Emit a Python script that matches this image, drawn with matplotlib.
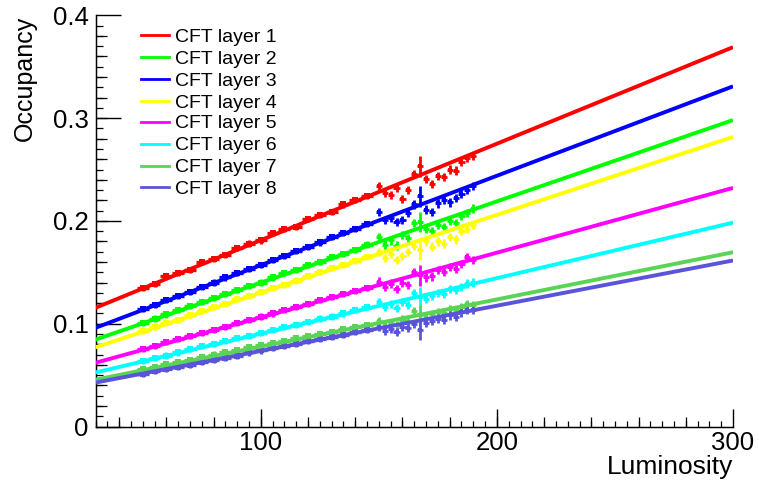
import numpy as np
import matplotlib
matplotlib.use("Agg")
import matplotlib.pyplot as plt
from matplotlib.lines import Line2D
from matplotlib.ticker import MultipleLocator

plt.rcParams['font.family'] = ['Liberation Sans', 'DejaVu Sans']

# ---- data -----------------------------------------------------------------
layers = ["CFT layer 1", "CFT layer 2", "CFT layer 3", "CFT layer 4",
          "CFT layer 5", "CFT layer 6", "CFT layer 7", "CFT layer 8"]
colors = ["#ff0000", "#00ff00", "#0000ff", "#ffff00",
          "#ff00ff", "#00ffff", "#59d454", "#5954d9"]

# linear fit parameters: occupancy = p0 + p1 * luminosity
fit_p0 = [0.0873, 0.0608, 0.0699, 0.0543, 0.0431, 0.0363, 0.0318, 0.0295]
fit_p1 = [0.000939, 0.000791, 0.000870, 0.000758, 0.000630, 0.000540, 0.000459, 0.000440]

# measured occupancy, low-luminosity runs
lumi_a = [50, 55, 60, 65, 70, 75, 80, 85, 90, 95,
          100, 105, 110, 115, 120, 125, 130, 135, 140, 145]
occ_a = {
    "CFT layer 1": [0.135, 0.139, 0.146, 0.149, 0.152, 0.160, 0.163, 0.167, 0.174, 0.178,
                    0.181, 0.188, 0.192, 0.194, 0.202, 0.206, 0.209, 0.216, 0.220, 0.224],
    "CFT layer 2": [0.101, 0.105, 0.109, 0.113, 0.117, 0.121, 0.125, 0.129, 0.133, 0.137,
                    0.140, 0.145, 0.149, 0.152, 0.157, 0.160, 0.165, 0.168, 0.172, 0.177],
    "CFT layer 3": [0.114, 0.118, 0.123, 0.127, 0.131, 0.136, 0.140, 0.145, 0.149, 0.153,
                    0.157, 0.162, 0.166, 0.171, 0.175, 0.179, 0.184, 0.188, 0.192, 0.197],
    "CFT layer 4": [0.093, 0.097, 0.101, 0.104, 0.108, 0.112, 0.116, 0.119, 0.124, 0.127,
                    0.131, 0.135, 0.138, 0.142, 0.146, 0.150, 0.154, 0.157, 0.161, 0.165],
    "CFT layer 5": [0.075, 0.078, 0.082, 0.085, 0.088, 0.091, 0.094, 0.097, 0.101, 0.104,
                    0.107, 0.110, 0.113, 0.116, 0.119, 0.123, 0.126, 0.129, 0.132, 0.135],
    "CFT layer 6": [0.064, 0.067, 0.069, 0.072, 0.075, 0.078, 0.080, 0.083, 0.086, 0.088,
                    0.091, 0.094, 0.097, 0.099, 0.102, 0.105, 0.107, 0.110, 0.113, 0.116],
    "CFT layer 7": [0.056, 0.058, 0.061, 0.063, 0.065, 0.068, 0.070, 0.072, 0.074, 0.077,
                    0.079, 0.081, 0.083, 0.086, 0.088, 0.090, 0.092, 0.095, 0.097, 0.099],
    "CFT layer 8": [0.051, 0.054, 0.056, 0.058, 0.060, 0.063, 0.065, 0.067, 0.069, 0.072,
                    0.074, 0.076, 0.078, 0.080, 0.083, 0.085, 0.087, 0.089, 0.092, 0.094],
}
err_a = 0.003

# measured occupancy, high-luminosity runs
lumi_b = [150, 152.5, 155, 157.5, 160, 162.5, 165, 167.5, 170,
          172.5, 175, 177.5, 180, 182.5, 185, 187.5, 190]
occ_b = {
    "CFT layer 1": [0.234, 0.227, 0.225, 0.232, 0.221, 0.230, 0.246, 0.253, 0.241,
                    0.236, 0.244, 0.243, 0.250, 0.249, 0.257, 0.261, 0.263],
    "CFT layer 2": [0.184, 0.177, 0.181, 0.176, 0.186, 0.183, 0.198, 0.199, 0.192,
                    0.190, 0.196, 0.194, 0.200, 0.198, 0.205, 0.208, 0.212],
    "CFT layer 3": [0.209, 0.201, 0.203, 0.199, 0.201, 0.208, 0.216, 0.224, 0.211,
                    0.209, 0.217, 0.220, 0.218, 0.222, 0.226, 0.230, 0.234],
    "CFT layer 4": [0.170, 0.164, 0.168, 0.162, 0.166, 0.170, 0.176, 0.172, 0.180,
                    0.175, 0.180, 0.178, 0.184, 0.182, 0.190, 0.192, 0.196],
    "CFT layer 5": [0.141, 0.136, 0.139, 0.134, 0.140, 0.138, 0.150, 0.147, 0.145,
                    0.146, 0.152, 0.150, 0.155, 0.153, 0.158, 0.165, 0.162],
    "CFT layer 6": [0.121, 0.116, 0.119, 0.115, 0.121, 0.118, 0.130, 0.126, 0.124,
                    0.127, 0.130, 0.129, 0.134, 0.133, 0.136, 0.139, 0.140],
    "CFT layer 7": [0.103, 0.098, 0.101, 0.099, 0.104, 0.102, 0.112, 0.108, 0.106,
                    0.109, 0.111, 0.110, 0.114, 0.113, 0.116, 0.119, 0.118],
    "CFT layer 8": [0.097, 0.093, 0.095, 0.092, 0.097, 0.096, 0.100, 0.094, 0.101,
                    0.103, 0.105, 0.104, 0.108, 0.107, 0.111, 0.113, 0.113],
}
err_b = [0.004, 0.004, 0.004, 0.004, 0.004, 0.004, 0.004, 0.010, 0.004,
         0.004, 0.004, 0.004, 0.004, 0.004, 0.004, 0.004, 0.004]

x_range = (30, 300)
y_range = (0, 0.4)

# ---- figure -----------------------------------------------------------------
W, H = 759, 483
fig = plt.figure(figsize=(W / 100, H / 100), dpi=100)
ax = fig.add_axes([95.5 / W, 1 - 426.5 / H, (733 - 95.5) / W, (426.5 - 15.3) / H])

xs = np.array(x_range, dtype=float)
for name, col, p0, p1 in zip(layers, colors, fit_p0, fit_p1):
    ax.errorbar(lumi_a, occ_a[name], xerr=2.5, yerr=err_a, fmt='s', ms=4, mew=0,
                color=col, ecolor=col, elinewidth=2.4, capsize=0, zorder=2)
    ax.errorbar(lumi_b, occ_b[name], xerr=1.3, yerr=err_b, fmt='s', ms=3.5, mew=0,
                color=col, ecolor=col, elinewidth=2.0, capsize=0, zorder=2)
    ax.plot(xs, p0 + p1 * xs, color=col, lw=2.8, solid_capstyle='butt', zorder=3)

ax.set_xlim(*x_range)
ax.set_ylim(*y_range)

for s in ("top", "right"):
    ax.spines[s].set_visible(False)
for s in ("left", "bottom"):
    ax.spines[s].set_linewidth(1.0)

ax.xaxis.set_major_locator(MultipleLocator(100))
ax.xaxis.set_minor_locator(MultipleLocator(5))
ax.yaxis.set_major_locator(MultipleLocator(0.1))
ax.yaxis.set_minor_locator(MultipleLocator(0.01))
ax.yaxis.set_major_formatter(plt.FuncFormatter(lambda v, p: "0" if abs(v) < 1e-9 else f"{v:.1f}"))
ax.tick_params(axis='x', which='major', direction='in', length=13, width=1.0,
               labelsize=18.5, pad=3.5, top=False)
ax.tick_params(axis='x', which='minor', direction='in', length=4, width=0.9, top=False)
ax.tick_params(axis='y', which='major', direction='in', length=18, width=1.0,
               labelsize=18.5, pad=5, right=False)
ax.tick_params(axis='y', which='minor', direction='in', length=5, width=0.9, right=False)

# medium-length ticks between the major ones
secx = ax.secondary_xaxis('bottom')
secx.set_xticks(np.arange(40, 300, 20))
secx.tick_params(direction='in', length=7, width=0.9, labelbottom=False)
secx.xaxis.set_minor_locator(plt.NullLocator())
secy = ax.secondary_yaxis('left')
secy.set_yticks(np.arange(0.02, 0.4, 0.02))
secy.tick_params(direction='in', length=8, width=0.9, labelleft=False)
secy.yaxis.set_minor_locator(plt.NullLocator())

fig.text(733 / W, 1 - 474 / H, "Luminosity", fontsize=19, ha='right', va='baseline')
fig.text(25 / W, 1 - 15.3 / H, "Occupancy", fontsize=18, rotation=90,
         ha='center', va='top')

# legend
row_y = [35, 57, 79, 101, 122, 144, 166, 187]
for name, col, yy in zip(layers, colors, row_y):
    fig.add_artist(Line2D([141 / W, 169 / W], [1 - yy / H, 1 - yy / H],
                          transform=fig.transFigure, color=col, lw=2.0))
    fig.text(175 / W, 1 - yy / H, name, fontsize=14, ha='left', va='center_baseline')

fig.savefig("out.png", dpi=100)
